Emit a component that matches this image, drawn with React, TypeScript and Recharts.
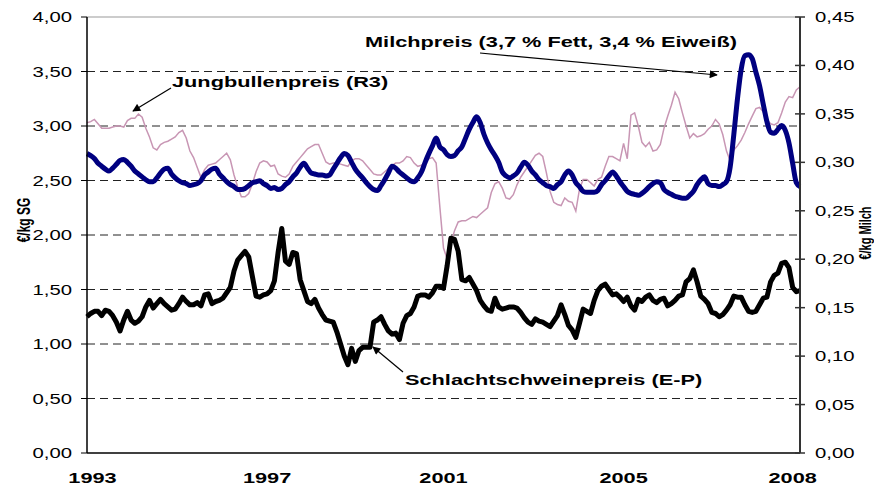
import { LineChart, Line, XAxis, YAxis, ReferenceLine } from 'recharts';

// Monatswerte Jan 1993 .. Mrz 2009 (Index = Monat)
const bullPrice = [
  3.03, 3.04, 3.06, 3.02, 2.98, 2.98, 2.98, 2.99, 3.0, 3.0,
  2.99, 3.05, 3.07, 3.07, 3.11, 3.08, 2.98, 2.9, 2.8, 2.78,
  2.83, 2.85, 2.86, 2.88, 2.9, 2.94, 2.96, 2.89, 2.77, 2.71,
  2.62, 2.53, 2.6, 2.64, 2.65, 2.66, 2.69, 2.72, 2.75, 2.69,
  2.55, 2.44, 2.35, 2.35, 2.38, 2.47, 2.58, 2.66, 2.68, 2.67,
  2.63, 2.64, 2.56, 2.54, 2.53, 2.56, 2.63, 2.67, 2.71, 2.75,
  2.79, 2.81, 2.83, 2.83, 2.75, 2.67, 2.65, 2.66, 2.66, 2.65,
  2.64, 2.63, 2.68, 2.7, 2.7, 2.68, 2.64, 2.6, 2.56, 2.55,
  2.55, 2.58, 2.61, 2.64, 2.66, 2.66, 2.68, 2.72, 2.71, 2.66,
  2.63, 2.64, 2.67, 2.7, 2.71, 2.66, 2.26, 1.88, 1.78, 1.92,
  2.04, 2.12, 2.13, 2.13, 2.15, 2.17, 2.16, 2.19, 2.22, 2.25,
  2.39, 2.47, 2.49, 2.43, 2.34, 2.33, 2.37, 2.46, 2.53, 2.58,
  2.63, 2.68, 2.73, 2.75, 2.72, 2.57, 2.4, 2.3, 2.28, 2.27,
  2.34, 2.31, 2.3, 2.22, 2.42, 2.51, 2.51, 2.48, 2.45, 2.51,
  2.53, 2.63, 2.72, 2.72, 2.7, 2.68, 2.84, 2.7, 3.1, 3.12,
  3.0, 2.85, 2.81, 2.85, 2.77, 2.78, 2.83, 2.98, 3.09, 3.19,
  3.31, 3.25, 3.12, 3.0, 2.89, 2.93, 2.9, 2.91, 2.93, 2.97,
  3.0, 3.06, 3.02, 2.92, 2.77, 2.68, 2.78, 2.82, 2.87, 2.94,
  3.02, 3.09, 3.16, 3.17, 3.13, 3.06, 3.02, 3.01, 3.03, 3.12,
  3.22, 3.27, 3.26, 3.33, 3.36,
];

const pigPrice = [
  1.25, 1.28, 1.3, 1.3, 1.26, 1.31, 1.3, 1.26, 1.2, 1.12,
  1.22, 1.3, 1.22, 1.19, 1.21, 1.25, 1.34, 1.4, 1.33, 1.37,
  1.41, 1.37, 1.34, 1.31, 1.32, 1.37, 1.43, 1.39, 1.36, 1.36,
  1.38, 1.35, 1.45, 1.46, 1.37, 1.39, 1.4, 1.42, 1.47, 1.52,
  1.67, 1.77, 1.81, 1.85, 1.8, 1.62, 1.44, 1.43, 1.45, 1.46,
  1.49, 1.58, 1.84, 2.06, 1.76, 1.73, 1.84, 1.83, 1.59, 1.49,
  1.39, 1.37, 1.41, 1.33, 1.27, 1.22, 1.21, 1.2, 1.11, 1.0,
  0.89, 0.81, 0.96, 0.84, 0.94, 0.97, 0.97, 0.97, 1.2, 1.22,
  1.25, 1.18, 1.12, 1.09, 1.1, 1.04, 1.19, 1.26, 1.28, 1.34,
  1.44, 1.45, 1.45, 1.43, 1.47, 1.53, 1.53, 1.51, 1.72, 1.97,
  1.96, 1.85, 1.59, 1.58, 1.61, 1.55, 1.49, 1.4, 1.35, 1.31,
  1.3, 1.42, 1.34, 1.32, 1.33, 1.34, 1.34, 1.33, 1.29, 1.24,
  1.2, 1.18, 1.23, 1.21, 1.2, 1.18, 1.16, 1.21, 1.26, 1.36,
  1.27, 1.17, 1.13, 1.06, 1.19, 1.32, 1.3, 1.28, 1.4, 1.49,
  1.53, 1.55, 1.5, 1.45, 1.46, 1.43, 1.39, 1.43, 1.35, 1.31,
  1.41, 1.39, 1.43, 1.45, 1.4, 1.38, 1.41, 1.42, 1.35, 1.37,
  1.4, 1.44, 1.45, 1.57, 1.6, 1.68, 1.57, 1.44, 1.41, 1.37,
  1.29, 1.28, 1.25, 1.27, 1.31, 1.36, 1.44, 1.43, 1.43, 1.36,
  1.3, 1.29, 1.3, 1.36, 1.42, 1.43, 1.57, 1.63, 1.65, 1.74,
  1.75, 1.7, 1.52, 1.48, 1.49,
];

const milkPrice = [
  0.309, 0.307, 0.304, 0.299, 0.296, 0.293, 0.291, 0.294, 0.298, 0.302,
  0.303, 0.3, 0.296, 0.291, 0.288, 0.285, 0.282, 0.28, 0.28, 0.284,
  0.289, 0.293, 0.294, 0.288, 0.284, 0.281, 0.279, 0.278, 0.276, 0.277,
  0.278, 0.281, 0.287, 0.29, 0.293, 0.294, 0.288, 0.284, 0.28, 0.277,
  0.275, 0.272, 0.272, 0.273, 0.276, 0.279, 0.28, 0.281, 0.278, 0.276,
  0.273, 0.274, 0.272, 0.273, 0.277, 0.28, 0.285, 0.289, 0.295, 0.299,
  0.294, 0.289, 0.288, 0.287, 0.287, 0.286, 0.287, 0.293, 0.299, 0.305,
  0.309, 0.307, 0.3, 0.293, 0.288, 0.284, 0.279, 0.275, 0.272, 0.271,
  0.276, 0.282, 0.289, 0.296, 0.294, 0.29, 0.287, 0.284, 0.281, 0.28,
  0.284, 0.29, 0.3, 0.309, 0.317, 0.325, 0.316, 0.313, 0.308, 0.306,
  0.307, 0.312, 0.316, 0.325, 0.334, 0.341, 0.347, 0.341, 0.329, 0.32,
  0.313, 0.307, 0.3, 0.29, 0.286, 0.284, 0.286, 0.289, 0.295, 0.3,
  0.297, 0.291, 0.287, 0.282, 0.279, 0.276, 0.275, 0.273, 0.277, 0.28,
  0.287, 0.291, 0.287, 0.279, 0.275, 0.27, 0.269, 0.269, 0.269, 0.271,
  0.277, 0.281, 0.286, 0.29, 0.286, 0.28, 0.275, 0.27, 0.268, 0.267,
  0.266, 0.268, 0.271, 0.275, 0.278, 0.28, 0.279, 0.272, 0.269, 0.267,
  0.265, 0.264, 0.263, 0.263, 0.266, 0.27, 0.277, 0.282, 0.285, 0.278,
  0.276, 0.276, 0.275, 0.277, 0.28, 0.295, 0.329, 0.366, 0.396, 0.41,
  0.411, 0.407, 0.393, 0.379, 0.36, 0.342, 0.331, 0.33, 0.334, 0.338,
  0.333, 0.32, 0.299, 0.279, 0.275,
];

const yearLabels = ['1993', '1997', '2001', '2005', '2008'];
const yearTickMonths = [1.5, 49, 97, 146, 192];
const leftTicks = [0, 0.5, 1, 1.5, 2, 2.5, 3, 3.5, 4];
const rightTicks = [0, 0.05, 0.1, 0.15, 0.2, 0.25, 0.3, 0.35, 0.4, 0.45];
const gridValues = [0.5, 1, 1.5, 2, 2.5, 3, 3.5];

const data = milkPrice.map((milk, i) => ({
  month: i,
  bull: bullPrice[i],
  pig: pigPrice[i],
  milk,
}));

const FONT = '"Liberation Sans", Arial, sans-serif';
// the original graphic is stretched horizontally
const SX = 1.45;
const fmt = (v: number) => v.toFixed(2).replace('.', ',');

function LeftTick({ x, y, payload }: any) {
  return (
    <text
      transform={`translate(${x - 9},${y + 5}) scale(${SX},1)`}
      textAnchor="end"
      fontSize={14}
      fontFamily={FONT}
      fill="#000"
    >
      {fmt(payload.value)}
    </text>
  );
}

function RightTick({ x, y, payload }: any) {
  return (
    <g>
      <line x1={x - 5} x2={x + 5} y1={y} y2={y} stroke="#333" strokeWidth={1.5} />
      <text
        transform={`translate(${x + 15},${y + 5}) scale(${SX},1)`}
        fontSize={14}
        fontFamily={FONT}
        fill="#000"
      >
        {fmt(payload.value)}
      </text>
    </g>
  );
}

function YearTick({ x, y, payload }: any) {
  const idx = yearTickMonths.indexOf(payload.value);
  return (
    <text
      transform={`translate(${x},${y + 30}) scale(${SX},1)`}
      textAnchor="middle"
      fontSize={15}
      fontWeight="bold"
      fontFamily={FONT}
      fill="#000"
    >
      {yearLabels[idx]}
    </text>
  );
}

function Note({ x, y, text }: { x: number; y: number; text: string }) {
  return (
    <text
      transform={`translate(${x},${y}) scale(${SX},1)`}
      fontSize={15}
      fontWeight="bold"
      fontFamily={FONT}
      fill="#000"
    >
      {text}
    </text>
  );
}

export default function App() {
  return (
    <div style={{ position: 'absolute', left: 0, top: 0, width: 874, height: 486, background: '#fff' }}>
      <LineChart width={874} height={486} data={data} margin={{ top: 17, right: 0, bottom: 0, left: 0 }}>
        <XAxis
          dataKey="month"
          type="number"
          domain={[0, 194]}
          ticks={yearTickMonths}
          interval={0}
          tickLine={false}
          tickSize={0}
          tickMargin={0}
          height={33}
          axisLine={{ stroke: '#000', strokeWidth: 1.5 }}
          tick={<YearTick />}
        />
        <YAxis
          yAxisId="left"
          domain={[0, 4]}
          ticks={leftTicks}
          interval={0}
          width={87}
          tickSize={6}
          tickMargin={0}
          axisLine={{ stroke: '#000', strokeWidth: 1.5 }}
          tickLine={{ stroke: '#000' }}
          tick={<LeftTick />}
        />
        <YAxis
          yAxisId="right"
          orientation="right"
          domain={[0, 0.45]}
          ticks={rightTicks}
          interval={0}
          width={74}
          tickSize={0}
          tickMargin={0}
          tickLine={false}
          axisLine={{ stroke: '#333', strokeWidth: 2 }}
          tick={<RightTick />}
        />
        {gridValues.map((v) => (
          <ReferenceLine key={v} yAxisId="left" y={v} stroke="#222" strokeDasharray="8 5" />
        ))}
        <ReferenceLine yAxisId="left" y={4} stroke="#999" />
        <Line
          yAxisId="left"
          dataKey="bull"
          type="linear"
          stroke="#c896b4"
          strokeWidth={1.5}
          dot={false}
          isAnimationActive={false}
        />
        <Line
          yAxisId="right"
          dataKey="milk"
          type="monotone"
          stroke="#000080"
          strokeWidth={5}
          strokeLinejoin="round"
          dot={false}
          isAnimationActive={false}
        />
        <Line
          yAxisId="left"
          dataKey="pig"
          type="linear"
          stroke="#000"
          strokeWidth={5}
          strokeLinejoin="round"
          dot={false}
          isAnimationActive={false}
        />
      </LineChart>

      <svg width={874} height={486} style={{ position: 'absolute', left: 0, top: 0, pointerEvents: 'none' }}>
        <defs>
          <marker id="arr" viewBox="0 0 10 10" refX="9" refY="5" markerWidth="10" markerHeight="8" markerUnits="userSpaceOnUse" orient="auto">
            <path d="M0,0 L10,5 L0,10 z" fill="#000" />
          </marker>
        </defs>
        <text
          transform="translate(30,220) rotate(-90) scale(1,1.55)"
          textAnchor="middle"
          fontSize={12}
          fontWeight="bold"
          fontFamily={FONT}
        >
          €/kg SG
        </text>
        <text
          transform="translate(871,233) rotate(-90) scale(1,1.45)"
          textAnchor="middle"
          fontSize={11}
          fontWeight="bold"
          fontFamily={FONT}
        >
          €/kg Milch
        </text>

        <Note x={365} y={47} text="Milchpreis (3,7 % Fett, 3,4 % Eiweiß)" />
        <line x1={480} y1={53} x2={717} y2={75} stroke="#000" strokeWidth={1.2} markerEnd="url(#arr)" />

        <Note x={172} y={87} text="Jungbullenpreis (R3)" />
        <line x1={171} y1={88} x2={133} y2={111} stroke="#000" strokeWidth={1.2} markerEnd="url(#arr)" />

        <Note x={405} y={385} text="Schlachtschweinepreis (E-P)" />
        <line x1={403} y1={372} x2={373} y2={347} stroke="#000" strokeWidth={1.2} markerEnd="url(#arr)" />
      </svg>
    </div>
  );
}
